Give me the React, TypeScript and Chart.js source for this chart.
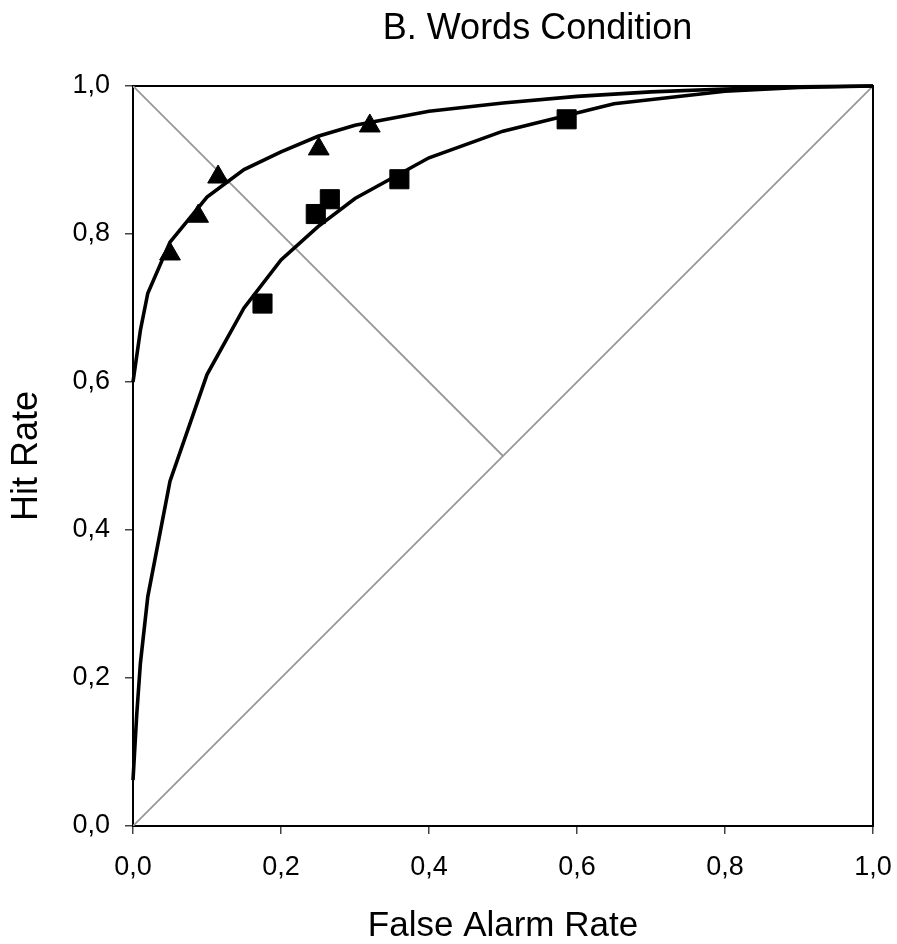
import React, { useEffect, useRef } from 'react';
import { Chart, registerables } from 'chart.js';

Chart.register(...registerables);

const titleText = 'B. Words Condition';
const xTitle = 'False Alarm Rate';
const yTitle = 'Hit Rate';

const xTickLabels = ['0,0', '0,2', '0,4', '0,6', '0,8', '1,0'];
const yTickLabels = ['0,0', '0,2', '0,4', '0,6', '0,8', '1,0'];

// Observed data (markers)
const triangleFA = [0.05, 0.088, 0.115, 0.251, 0.32];
const triangleHit = [0.773, 0.824, 0.877, 0.915, 0.946];
const squareFA = [0.175, 0.247, 0.266, 0.36, 0.586];
const squareHit = [0.706, 0.827, 0.847, 0.874, 0.955];

// Fitted ROC curves
const upperCurveFA = [0, 0.01, 0.02, 0.05, 0.1, 0.15, 0.2, 0.25, 0.3, 0.4, 0.5, 0.6, 0.7, 0.8, 0.9, 1.0];
const upperCurveHit = [0.6, 0.67, 0.72, 0.789, 0.85, 0.887, 0.911, 0.932, 0.947, 0.966, 0.977, 0.986, 0.992, 0.996, 0.999, 1.0];
const lowerCurveFA = [0, 0.005, 0.01, 0.02, 0.05, 0.1, 0.15, 0.2, 0.25, 0.3, 0.4, 0.5, 0.65, 0.8, 0.9, 1.0];
const lowerCurveHit = [0.062, 0.15, 0.22, 0.31, 0.466, 0.61, 0.7, 0.765, 0.81, 0.848, 0.903, 0.939, 0.976, 0.993, 0.998, 1.0];

// Reference diagonals
const chanceFA = [0, 1];
const chanceHit = [0, 1];
const minorDiagFA = [0, 0.5];
const minorDiagHit = [1, 0.5];

const FONT = "'Liberation Sans', Arial, Helvetica, sans-serif";

const zip = (xs: number[], ys: number[]) => xs.map((x, i) => ({ x, y: ys[i] }));

const framePlugin = {
  id: 'frame',
  afterLayout(chart: any) {
    // title sits right of centre in the original figure
    const tb = chart.titleBlock;
    if (tb) {
      tb.left += 101;
      tb.right += 101;
    }
  },
  beforeDatasetsDraw(chart: any) {
    const { ctx, chartArea } = chart;
    ctx.save();
    ctx.strokeStyle = '#000';
    ctx.lineWidth = 2;
    ctx.strokeRect(chartArea.left, chartArea.top, chartArea.right - chartArea.left, chartArea.bottom - chartArea.top);
    ctx.restore();
  },
};

export default function App() {
  const canvasRef = useRef<HTMLCanvasElement | null>(null);

  useEffect(() => {
    if (!canvasRef.current) return;
    const chart = new Chart(canvasRef.current, {
      type: 'scatter',
      data: {
        datasets: [
          {
            label: 'Chance',
            data: zip(chanceFA, chanceHit),
            showLine: true,
            borderColor: '#999999',
            borderWidth: 1.8,
            pointRadius: 0,
            order: 3,
          },
          {
            label: 'Minor diagonal',
            data: zip(minorDiagFA, minorDiagHit),
            showLine: true,
            borderColor: '#999999',
            borderWidth: 1.8,
            pointRadius: 0,
            order: 3,
          },
          {
            label: 'Upper fit',
            data: zip(upperCurveFA, upperCurveHit),
            showLine: true,
            borderColor: '#000',
            borderWidth: 3.6,
            pointRadius: 0,
            tension: 0,
            clip: false,
            order: 2,
          },
          {
            label: 'Lower fit',
            data: zip(lowerCurveFA, lowerCurveHit),
            showLine: true,
            borderColor: '#000',
            borderWidth: 3.6,
            pointRadius: 0,
            tension: 0,
            clip: false,
            order: 2,
          },
          {
            label: 'Triangles',
            data: zip(triangleFA, triangleHit),
            showLine: false,
            pointStyle: 'triangle',
            pointRadius: 12,
            pointBackgroundColor: '#000',
            pointBorderColor: '#000',
            pointBorderWidth: 1,
            order: 1,
          },
          {
            label: 'Squares',
            data: zip(squareFA, squareHit),
            showLine: false,
            pointStyle: 'rect',
            pointRadius: 13.5,
            pointBackgroundColor: '#000',
            pointBorderColor: '#000',
            pointBorderWidth: 1,
            order: 1,
          },
        ],
      },
      options: {
        responsive: false,
        animation: false,
        events: [],
        layout: { padding: { left: 0, right: 24, top: 0, bottom: 0 } },
        plugins: {
          legend: { display: false },
          tooltip: { enabled: false },
          title: {
            display: true,
            text: titleText,
            color: '#000',
            font: { family: FONT, size: 36, weight: 'normal', lineHeight: 1.2 },
            padding: { top: 7, bottom: 35.8 },
          },
        },
        scales: {
          x: {
            type: 'linear',
            min: 0,
            max: 1,
            border: { display: false },
            grid: { drawOnChartArea: false, drawTicks: true, tickLength: 8, color: '#444', lineWidth: 1.5 },
            ticks: {
              stepSize: 0.2,
              padding: 17,
              color: '#000',
              font: { family: FONT, size: 27 },
              maxRotation: 0,
              autoSkip: false,
              callback: (_v: any, i: number) => xTickLabels[i],
            },
            title: {
              display: true,
              text: xTitle,
              color: '#000',
              font: { family: FONT, size: 35, lineHeight: 1 },
              padding: { top: 0, bottom: 0 },
            },
            afterFit: (scale: any) => {
              scale.height = 118;
              scale.paddingLeft = 0;
              scale.paddingRight = 0;
            },
          },
          y: {
            type: 'linear',
            min: 0,
            max: 1,
            border: { display: false },
            grid: { drawOnChartArea: false, drawTicks: true, tickLength: 8, color: '#444', lineWidth: 1.5 },
            ticks: {
              stepSize: 0.2,
              padding: 15,
              color: '#000',
              font: { family: FONT, size: 27 },
              autoSkip: false,
              callback: (_v: any, i: number) => yTickLabels[i],
            },
            title: {
              display: true,
              text: yTitle,
              color: '#000',
              font: { family: FONT, size: 36, lineHeight: 1 },
              padding: { top: 9.5, bottom: 0 },
            },
            afterFit: (scale: any) => {
              scale.width = 133;
              scale.paddingTop = 0;
              scale.paddingBottom = 0;
            },
          },
        },
      } as any,
      plugins: [framePlugin],
    });
    return () => chart.destroy();
  }, []);

  return (
    <div style={{ position: 'fixed', left: 0, top: 0, width: 897, height: 944, background: '#fff' }}>
      <canvas ref={canvasRef} width={897} height={944} style={{ display: 'block' }} />
    </div>
  );
}
